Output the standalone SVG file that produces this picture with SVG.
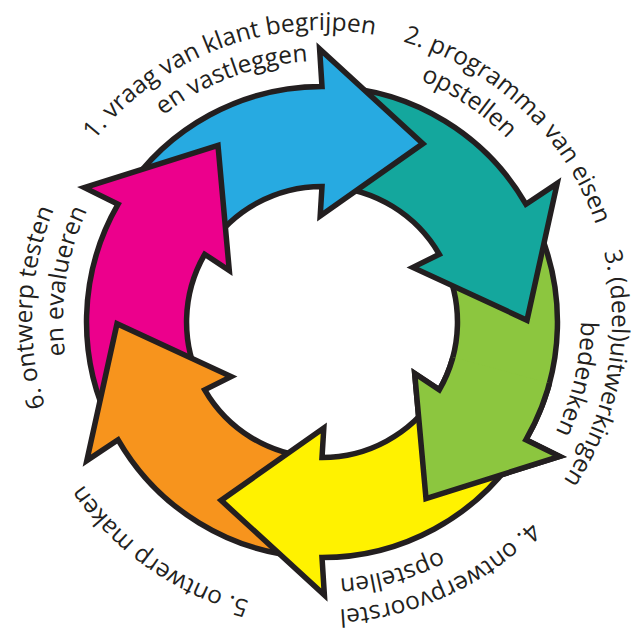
<svg xmlns="http://www.w3.org/2000/svg" width="640" height="631" viewBox="0 0 640 631">
<style>
.arrow{stroke:#231f20;stroke-width:5.5;stroke-linejoin:miter;stroke-miterlimit:12}
.lbl{font-family:"Open Sans","Noto Sans",sans-serif;font-size:24.5px;fill:#231f20}
</style>
<defs>
<path id="p1o" d="M48.5,223.7 A290,290 0 0 1 464.3,67.4"/>
<path id="p1i" d="M77.9,233.5 A259,259 0 0 1 449.5,94.6"/>
<path id="p2o" d="M289.2,31.9 A290,290 0 0 1 611.5,337.7"/>
<path id="p2i" d="M250.6,71 A259,259 0 0 1 579.6,292.9"/>
<path id="p3o" d="M544.2,133.6 A290,290 0 0 1 467,571.2"/>
<path id="p3i" d="M528.8,164.1 A259,259 0 0 1 439.6,550.8"/>
<path id="p4o" d="M601.7,396.5 A290,290 0 0 1 198.1,582.2"/>
<path id="p4i" d="M557.7,427.4 A259,259 0 0 1 175.3,533.5"/>
<path id="p5o" d="M397.1,600.1 A290,290 0 0 1 33.1,345.3"/>
<path id="p6o" d="M126.1,533.8 A290,290 0 0 1 145.5,89.9"/>
<path id="p6i" d="M127.7,491.3 A259,259 0 0 1 187.1,98.9"/>
<clipPath id="clipG"><polygon points="322,322 631,405 700,700 405,631"/></clipPath>
</defs>
<rect width="640" height="631" fill="#ffffff"/>
<g id="connectors"/>
<g id="step3">
<path id="arrow-green" class="arrow" fill="#8cc63f" d="M525.9,439.8 L559.6,456.4 L426,498.6 L414.7,373.4 L439.3,389.8 A135.5,135.5 0 0 0 442.7,260.5 L531.8,215.1 A235.5,235.5 0 0 1 525.9,439.8 Z"/>
<text class="lbl"><textPath href="#p3o" startOffset="50%" text-anchor="middle">3. (deel)uitwerkingen</textPath></text>
<text class="lbl"><textPath href="#p3i" startOffset="50%" text-anchor="middle">bedenken</textPath></text>
</g>
<g id="step2">
<path class="arrow" fill="#14a79d" d="M525.9,204.2 L557.2,183.4 L527,320.2 L412.9,267.4 L439.3,254.3 A135.5,135.5 0 0 0 329.1,186.7 L334.3,86.8 A235.5,235.5 0 0 1 525.9,204.2 Z"/>
<text class="lbl"><textPath href="#p2o" startOffset="50%" text-anchor="middle">2. programma van eisen</textPath></text>
<text class="lbl"><textPath href="#p2i" startOffset="50%" text-anchor="middle">opstellen</textPath></text>
</g>
<g id="step1">
<path class="arrow" fill="#27aae1" d="M322,86.5 L319.6,49 L422.9,143.6 L320.2,216 L322,186.5 A135.5,135.5 0 0 0 208.4,248.2 L124.5,193.7 A235.5,235.5 0 0 1 322,86.5 Z"/>
<text class="lbl"><textPath href="#p1o" startOffset="50%" text-anchor="middle">1. vraag van klant begrijpen</textPath></text>
<text class="lbl"><textPath href="#p1i" startOffset="50%" text-anchor="middle">en vastleggen</textPath></text>
</g>
<g id="step6">
<path class="arrow" fill="#ec008c" d="M118.1,204.2 L84.4,187.6 L218,145.4 L229.3,270.6 L204.7,254.3 A135.5,135.5 0 0 0 201.3,383.5 L112.2,428.9 A235.5,235.5 0 0 1 118.1,204.2 Z"/>
<text class="lbl"><textPath href="#p6o" startOffset="50%" text-anchor="middle">6. ontwerp testen</textPath></text>
<text class="lbl"><textPath href="#p6i" startOffset="50%" text-anchor="middle">en evalueren</textPath></text>
</g>
<g id="step5">
<path class="arrow" fill="#f7941d" d="M118.1,439.8 L86.8,460.6 L117,323.8 L231.1,376.6 L204.7,389.8 A135.5,135.5 0 0 0 314.9,457.3 L309.7,557.2 A235.5,235.5 0 0 1 118.1,439.8 Z"/>
<text class="lbl"><textPath href="#p5o" startOffset="50%" text-anchor="middle">5. ontwerp maken</textPath></text>
</g>
<g id="step4">
<path class="arrow" fill="#fff200" d="M322,557.5 L324.4,595 L221.1,500.4 L323.8,428 L322,457.5 A135.5,135.5 0 0 0 435.6,395.8 L519.5,450.3 A235.5,235.5 0 0 1 322,557.5 Z"/>
<text class="lbl"><textPath href="#p4o" startOffset="50%" text-anchor="middle">4. ontwerpvoorstel</textPath></text>
<text class="lbl"><textPath href="#p4i" startOffset="50%" text-anchor="middle">opstellen</textPath></text>
</g>
<use id="step3-head" href="#arrow-green" clip-path="url(#clipG)"/>
</svg>
